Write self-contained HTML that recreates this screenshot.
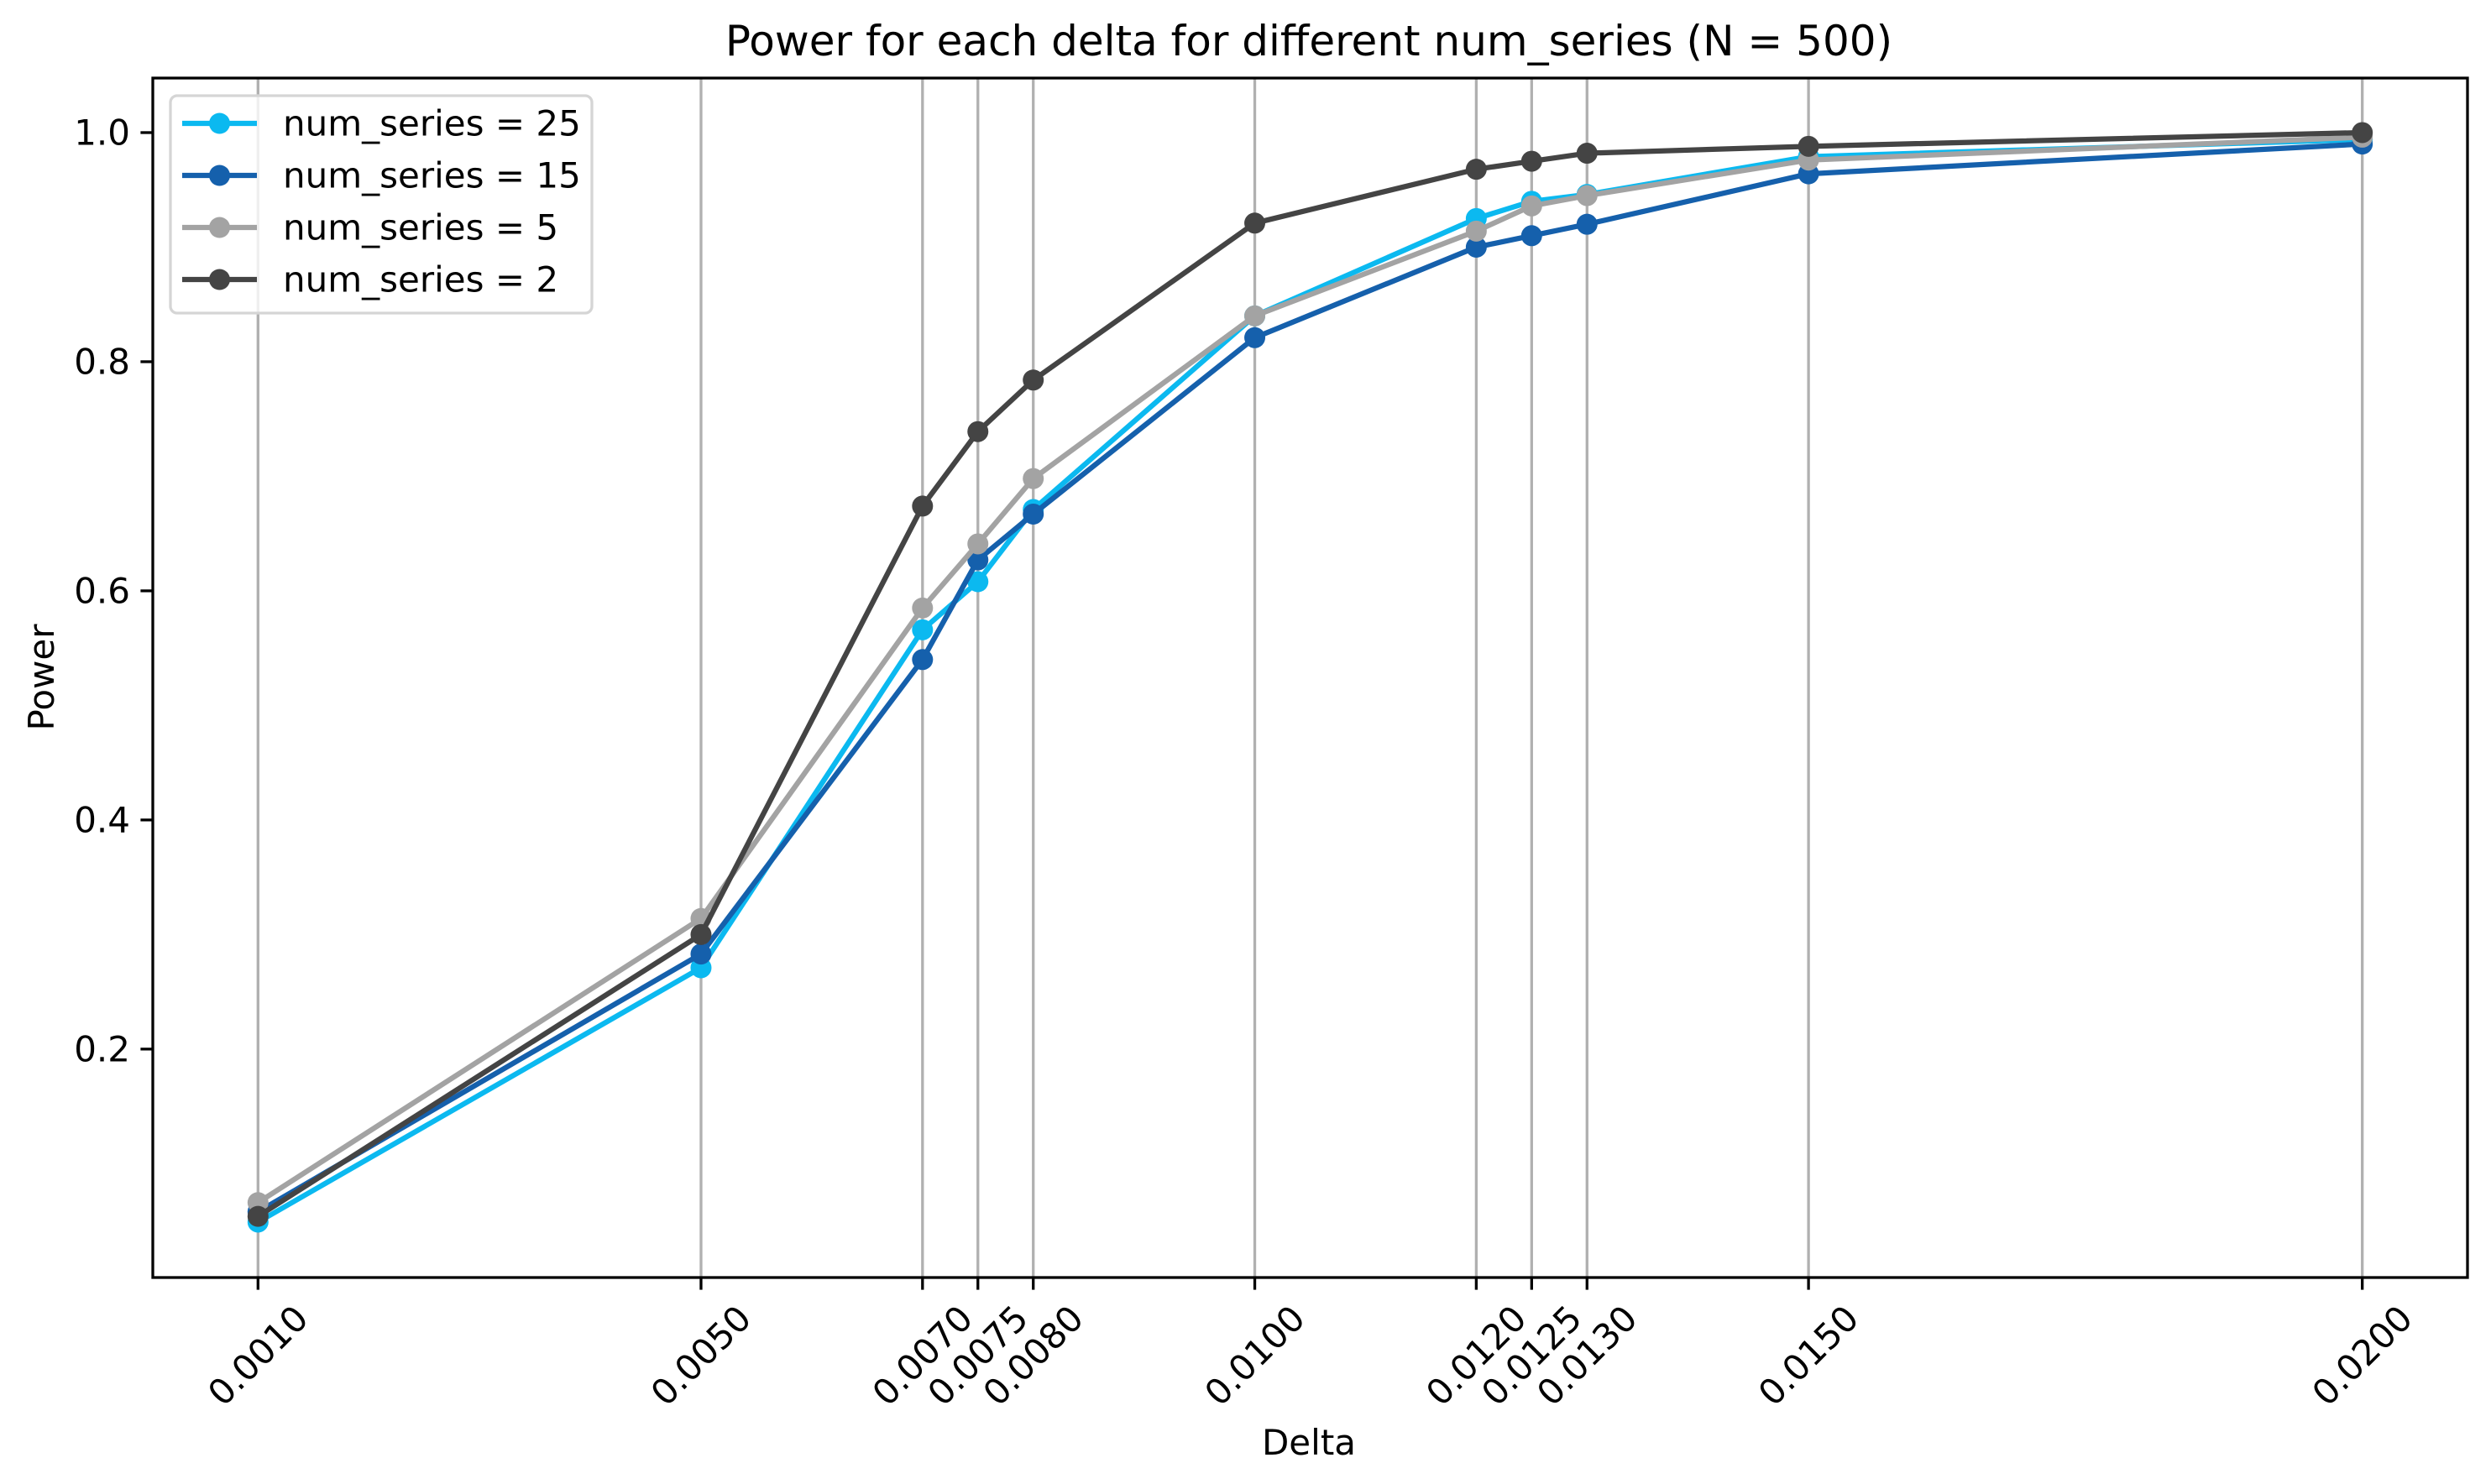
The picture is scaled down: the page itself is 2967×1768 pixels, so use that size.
<!DOCTYPE html>
<html><head><meta charset="utf-8"><style>
html,body{margin:0;padding:0;background:#fff;}
svg{display:block;font-family:"DejaVu Sans","Liberation Sans",sans-serif;}
</style></head><body>
<svg id="chart" width="2967" height="1768" viewBox="0 0 2967 1768" xmlns="http://www.w3.org/2000/svg">
<rect width="2967" height="1768" fill="#fff"/>
<text x="1559" y="66" font-size="50" text-anchor="middle" fill="#000">Power for each delta for different num_series (N = 500)</text>
<text x="1559" y="1733" font-size="42" text-anchor="middle" fill="#000">Delta</text>
<text x="0" y="0" font-size="42" text-anchor="middle" fill="#000" transform="translate(64,807) rotate(-90)">Power</text>
<g id="grid"></g><g id="series"></g>
<rect x="182" y="93" width="2757" height="1429" fill="none" stroke="#000" stroke-width="3.3"/>
<g id="ticks"></g><g id="legend"></g>
</svg>
<script>
const deltas = [0.001, 0.005, 0.007, 0.0075, 0.008, 0.01, 0.012, 0.0125, 0.013, 0.015, 0.02];
const xTickLabels = ["0.0010","0.0050","0.0070","0.0075","0.0080","0.0100","0.0120","0.0125","0.0130","0.0150","0.0200"];
const yTicks = [0.2, 0.4, 0.6, 0.8, 1.0];
const yTickLabels = ["0.2","0.4","0.6","0.8","1.0"];
const seriesNames = ["num_series = 25","num_series = 15","num_series = 5","num_series = 2"];
const power25 = [0.049, 0.271, 0.566, 0.608, 0.671, 0.840, 0.925, 0.940, 0.946, 0.979, 0.994];
const power15 = [0.058, 0.283, 0.540, 0.627, 0.667, 0.821, 0.900, 0.910, 0.920, 0.964, 0.990];
const power5  = [0.066, 0.314, 0.585, 0.641, 0.698, 0.840, 0.914, 0.936, 0.945, 0.976, 0.996];
const power2  = [0.054, 0.300, 0.674, 0.739, 0.784, 0.921, 0.968, 0.975, 0.982, 0.988, 1.000];

const colors = ["#0bb9f0","#1560ac","#a3a3a3","#444444"];
const NS = "http://www.w3.org/2000/svg";
const L=182,R=2939,T=93,B=1522;
const xmin=0.00005,xmax=0.02095,ymin=0.0006,ymax=1.0476;
const X=v=>L+(v-xmin)/(xmax-xmin)*(R-L);
const Y=v=>B-(v-ymin)/(ymax-ymin)*(B-T);
function mk(tag,attrs,parent){const e=document.createElementNS(NS,tag);for(const k in attrs)e.setAttribute(k,attrs[k]);parent.appendChild(e);return e;}
const grid=document.getElementById('grid'),ticks=document.getElementById('ticks'),ser=document.getElementById('series'),leg=document.getElementById('legend');
deltas.forEach((d,i)=>{
  const x=X(d);
  const g=mk('line',{x1:x,x2:x,y1:T,y2:B,stroke:'#b0b0b0','stroke-width':3.3},grid);
  
  
  const t=mk('line',{x1:x,x2:x,y1:B,y2:B+14.6,stroke:'#000','stroke-width':3.3},ticks);
  
  
  const tx=mk('text',{x:0,y:0,'font-size':42,'text-anchor':'middle','dominant-baseline':'central',transform:`translate(${x},1615) rotate(-45)`},ticks);
  tx.textContent=xTickLabels[i];
  
  
});
yTicks.forEach((v,i)=>{
  const y=Y(v);
  const t=mk('line',{x1:L-14.6,x2:L,y1:y,y2:y,stroke:'#000','stroke-width':3.3},ticks);
  
  
  const tx=mk('text',{x:L-27,y:y,'font-size':42,'text-anchor':'end','dominant-baseline':'central'},ticks);
  tx.textContent=yTickLabels[i];
  
  
});
[power25,power15,power5,power2].forEach((vals,s)=>{
  const g=mk('g',{},ser);
  
  
  const p=mk('polyline',{points:vals.map((v,i)=>X(deltas[i])+','+Y(v)).join(' '),fill:'none',stroke:colors[s],'stroke-width':6.25,'stroke-linejoin':'round'},g);
  
  
  vals.forEach((v,i)=>{
    const c=mk('circle',{cx:X(deltas[i]),cy:Y(v),r:12.5,fill:colors[s]},g);
    
    
  });
});
const box=mk('rect',{x:203,y:114,width:502,height:259,rx:8,fill:'#fff','fill-opacity':0.8,stroke:'#d5d5d5','stroke-width':3.3},leg);


seriesNames.forEach((n,s)=>{
  const y=147+s*62;
  const g=mk('g',{},leg);
  
  
  mk('line',{x1:217,x2:306,y1:y,y2:y,stroke:colors[s],'stroke-width':6.25},g);
  mk('circle',{cx:261.5,cy:y,r:12.5,fill:colors[s]},g);
  const t=mk('text',{x:337,y:y,'font-size':42,'dominant-baseline':'central'},g);
  t.textContent=n;
});
</script>
</body></html>
